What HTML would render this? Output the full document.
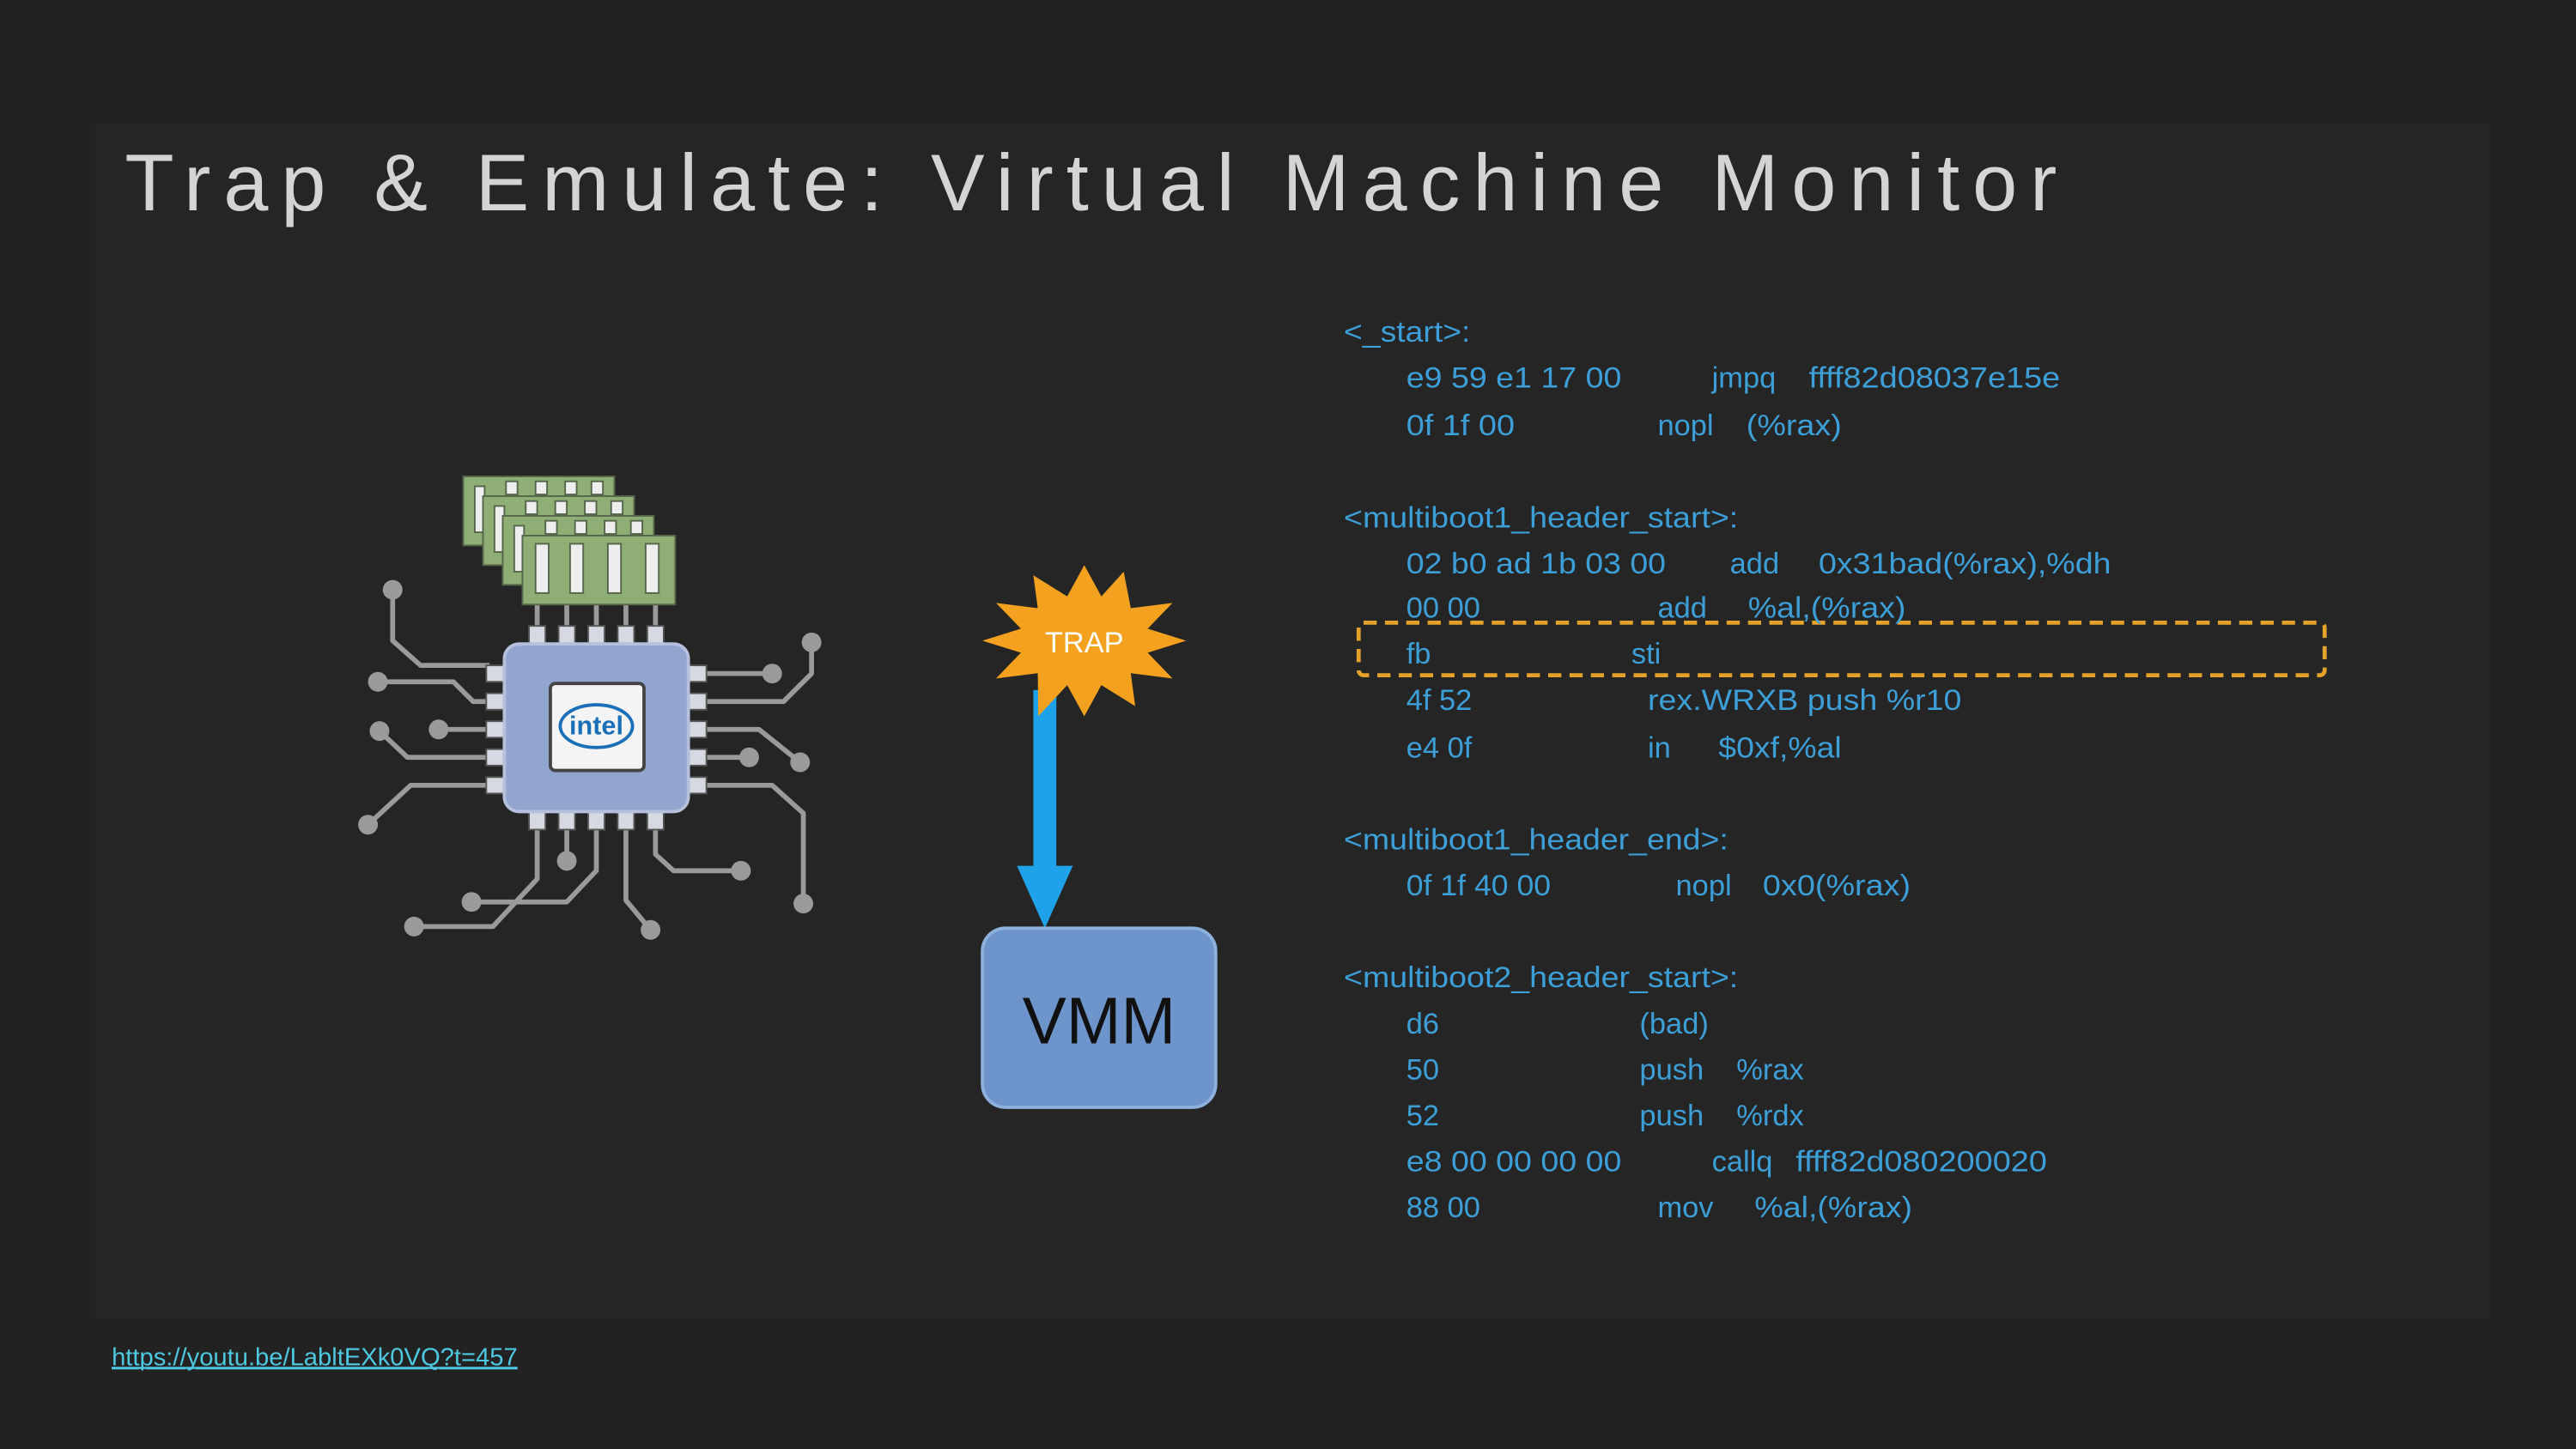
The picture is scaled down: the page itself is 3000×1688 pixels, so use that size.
<!DOCTYPE html>
<html><head><meta charset="utf-8"><style>
html,body{margin:0;padding:0;background:#222222;}
svg{display:block}
</style></head><body>
<svg xmlns="http://www.w3.org/2000/svg" width="3000" height="1688" viewBox="0 0 1568 882" preserveAspectRatio="none">
<rect x="0" y="0" width="1568" height="882" fill="#222222"/>
<rect x="55" y="75" width="1462" height="728" fill="#252525"/>
<text x="76" y="128" font-family="Liberation Sans, DejaVu Sans, sans-serif" font-size="49" fill="#d4d4d4" textLength="1176" lengthAdjust="spacing">Trap &amp; Emulate: Virtual Machine Monitor</text>

<g stroke="#9a9a9a" stroke-width="3" fill="none" stroke-linejoin="round">
<polyline points="239,359 239,390 256,405 298,405"/>
<polyline points="230,415 276,415 288,427 298,427"/>
<polyline points="267,444 298,444"/>
<polyline points="231,445 248,461 298,461"/>
<polyline points="224,502 250,478 298,478"/>
<polyline points="428,410 470,410"/>
<polyline points="494,391 494,410 477,427 428,427"/>
<polyline points="428,444 462,444 487,464"/>
<polyline points="428,461 456,461"/>
<polyline points="428,478 470,478 489,495 489,550"/>
<polyline points="327,505 327,535 300,564 252,564"/>
<polyline points="345,505 345,524"/>
<polyline points="363,505 363,530 345,549 287,549"/>
<polyline points="381,505 381,548 396,566"/>
<polyline points="399,505 399,520 410,530 451,530"/>
<polyline points="327,367 327,381"/><polyline points="345,367 345,381"/><polyline points="363,367 363,381"/><polyline points="381,367 381,381"/><polyline points="399,367 399,381"/>
</g>
<g fill="#9a9a9a">
<circle cx="239" cy="359" r="6"/><circle cx="230" cy="415" r="6"/><circle cx="267" cy="444" r="6"/><circle cx="231" cy="445" r="6"/><circle cx="224" cy="502" r="6"/>
<circle cx="494" cy="391" r="6"/><circle cx="470" cy="410" r="6"/><circle cx="487" cy="464" r="6"/><circle cx="456" cy="461" r="6"/><circle cx="489" cy="550" r="6"/>
<circle cx="252" cy="564" r="6"/><circle cx="345" cy="524" r="6"/><circle cx="287" cy="549" r="6"/><circle cx="396" cy="566" r="6"/><circle cx="451" cy="530" r="6"/>
</g>

<g stroke="#55664a" stroke-width="1">
<g><rect x="282" y="290" width="92" height="42" fill="#8fae76"/><rect x="289" y="296" width="6" height="28" fill="#eee"/><rect x="308" y="293" width="7" height="8" fill="#eee"/><rect x="326" y="293" width="7" height="8" fill="#eee"/><rect x="344" y="293" width="7" height="8" fill="#eee"/><rect x="360" y="293" width="7" height="8" fill="#eee"/></g>
<g><rect x="294" y="302" width="92" height="42" fill="#8fae76"/><rect x="301" y="308" width="6" height="28" fill="#eee"/><rect x="320" y="305" width="7" height="8" fill="#eee"/><rect x="338" y="305" width="7" height="8" fill="#eee"/><rect x="356" y="305" width="7" height="8" fill="#eee"/><rect x="372" y="305" width="7" height="8" fill="#eee"/></g>
<g><rect x="306" y="314" width="92" height="42" fill="#8fae76"/><rect x="313" y="320" width="6" height="28" fill="#eee"/><rect x="332" y="317" width="7" height="8" fill="#eee"/><rect x="350" y="317" width="7" height="8" fill="#eee"/><rect x="368" y="317" width="7" height="8" fill="#eee"/><rect x="384" y="317" width="7" height="8" fill="#eee"/></g>
<g><rect x="318" y="326" width="93" height="42" fill="#8fae76"/><rect x="326" y="331" width="8" height="30" fill="#eee"/><rect x="347" y="331" width="8" height="30" fill="#eee"/><rect x="370" y="331" width="8" height="30" fill="#eee"/><rect x="393" y="331" width="8" height="30" fill="#eee"/></g>
</g>

<g fill="#d6d9e2" stroke="#555" stroke-width="1">
<rect x="322" y="381" width="10" height="11"/><rect x="340" y="381" width="10" height="11"/><rect x="358" y="381" width="10" height="11"/><rect x="376" y="381" width="10" height="11"/><rect x="394" y="381" width="10" height="11"/>
<rect x="322" y="494" width="10" height="11"/><rect x="340" y="494" width="10" height="11"/><rect x="358" y="494" width="10" height="11"/><rect x="376" y="494" width="10" height="11"/><rect x="394" y="494" width="10" height="11"/>
<rect x="296" y="405" width="11" height="10"/><rect x="296" y="422" width="11" height="10"/><rect x="296" y="439" width="11" height="10"/><rect x="296" y="456" width="11" height="10"/><rect x="296" y="473" width="11" height="10"/>
<rect x="419" y="405" width="11" height="10"/><rect x="419" y="422" width="11" height="10"/><rect x="419" y="439" width="11" height="10"/><rect x="419" y="456" width="11" height="10"/><rect x="419" y="473" width="11" height="10"/>
</g>
<rect x="307" y="392" width="112" height="102" rx="9" fill="#92a5cf" stroke="#b5c0dc" stroke-width="2"/>
<rect x="335" y="416" width="57" height="53" rx="3" fill="#f4f4f4" stroke="#444" stroke-width="2"/>
<ellipse cx="363" cy="442" rx="22" ry="13" fill="none" stroke="#1b6fb8" stroke-width="2"/>
<text x="363" y="447" text-anchor="middle" font-family="Liberation Sans, sans-serif" font-size="16" fill="#1b6fb8" font-weight="bold">intel</text>

<rect x="629" y="420" width="14" height="110" fill="#1ea3ea"/>
<polygon points="619,527 653,527 636,565" fill="#1ea3ea"/>
<polygon fill="#f3a11f" points="722,390 698.6,397.3 713.7,413 688.3,409.8 691,429.8 670.4,417 660,436 649.6,417 632,436 631.7,409.8 606.3,413 621.4,397.3 598,390 621.4,382.7 606.3,367 631.7,370.2 629,350.2 649.6,363 660,344 670.4,363 684,348 688.3,370.2 713.7,367 698.6,382.7"/>
<text x="660" y="397" text-anchor="middle" font-family="Liberation Sans, sans-serif" font-size="18" fill="#ffffff">TRAP</text>

<rect x="598" y="565" width="142" height="109" rx="14" fill="#6d95cb" stroke="#8db0dd" stroke-width="2"/>
<text x="669" y="635" text-anchor="middle" font-family="Liberation Sans, sans-serif" font-size="40" fill="#111">VMM</text>

<rect x="827" y="379" width="588" height="32" rx="3" fill="none" stroke="#e4a22a" stroke-width="2.5" stroke-dasharray="8 5"/>

<g font-family="Liberation Sans, sans-serif" font-size="18" fill="#3d9fd8">
<text x="818" y="208" textLength="77" lengthAdjust="spacingAndGlyphs">&lt;_start&gt;:</text>
<text x="856" y="236" textLength="131" lengthAdjust="spacingAndGlyphs">e9 59 e1 17 00</text><text x="1042" y="236">jmpq</text><text x="1101" y="236" textLength="153" lengthAdjust="spacingAndGlyphs">ffff82d08037e15e</text>
<text x="856" y="265" textLength="66" lengthAdjust="spacingAndGlyphs">0f 1f 00</text><text x="1009" y="265">nopl</text><text x="1063" y="265" textLength="58" lengthAdjust="spacingAndGlyphs">(%rax)</text>
<text x="818" y="321" textLength="240" lengthAdjust="spacingAndGlyphs">&lt;multiboot1_header_start&gt;:</text>
<text x="856" y="349" textLength="158" lengthAdjust="spacingAndGlyphs">02 b0 ad 1b 03 00</text><text x="1053" y="349">add</text><text x="1107" y="349" textLength="178" lengthAdjust="spacingAndGlyphs">0x31bad(%rax),%dh</text>
<text x="856" y="376">00 00</text><text x="1009" y="376">add</text><text x="1064" y="376" textLength="96" lengthAdjust="spacingAndGlyphs">%al,(%rax)</text>
<text x="856" y="404">fb</text><text x="993" y="404">sti</text>
<text x="856" y="432">4f 52</text><text x="1003" y="432" textLength="191" lengthAdjust="spacingAndGlyphs">rex.WRXB push %r10</text>
<text x="856" y="461">e4 0f</text><text x="1003" y="461">in</text><text x="1046" y="461" textLength="75" lengthAdjust="spacingAndGlyphs">$0xf,%al</text>
<text x="818" y="517" textLength="234" lengthAdjust="spacingAndGlyphs">&lt;multiboot1_header_end&gt;:</text>
<text x="856" y="545" textLength="88" lengthAdjust="spacingAndGlyphs">0f 1f 40 00</text><text x="1020" y="545">nopl</text><text x="1073" y="545" textLength="90" lengthAdjust="spacingAndGlyphs">0x0(%rax)</text>
<text x="818" y="601" textLength="240" lengthAdjust="spacingAndGlyphs">&lt;multiboot2_header_start&gt;:</text>
<text x="856" y="629">d6</text><text x="998" y="629">(bad)</text>
<text x="856" y="657">50</text><text x="998" y="657">push</text><text x="1057" y="657">%rax</text>
<text x="856" y="685">52</text><text x="998" y="685">push</text><text x="1057" y="685">%rdx</text>
<text x="856" y="713" textLength="131" lengthAdjust="spacingAndGlyphs">e8 00 00 00 00</text><text x="1042" y="713">callq</text><text x="1093" y="713" textLength="153" lengthAdjust="spacingAndGlyphs">ffff82d080200020</text>
<text x="856" y="741">88 00</text><text x="1009" y="741">mov</text><text x="1068" y="741" textLength="96" lengthAdjust="spacingAndGlyphs">%al,(%rax)</text>
</g>

<text x="68" y="831" font-family="Liberation Sans, sans-serif" font-size="15" fill="#4dc8e0" text-decoration="underline" textLength="247" lengthAdjust="spacingAndGlyphs">https://youtu.be/LabltEXk0VQ?t=457</text>
<rect x="68" y="832" width="247" height="1.3" fill="#4dc8e0"/>
</svg>
</body></html>
